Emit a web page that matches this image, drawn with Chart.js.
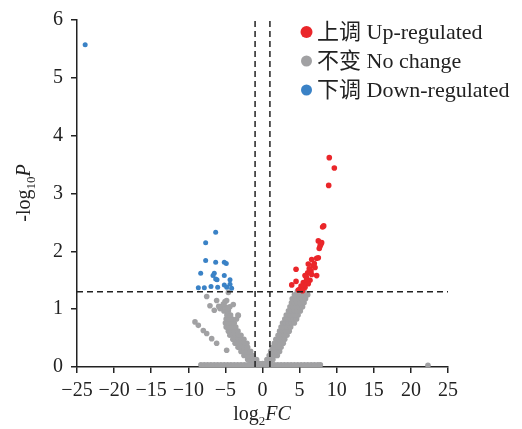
<!DOCTYPE html>
<html>
<head>
<meta charset="utf-8">
<script src="https://cdn.jsdelivr.net/npm/chart.js@4"></script>
<style>
  body { margin: 0; background: #fff; }
  #chart { display: block; }
</style>
</head>
<body>
<canvas id="chart" width="522" height="429"></canvas>
<script>
// log2FC, -log10P
const upPoints = [
  [9.0,3.62],[9.68,3.44],[8.92,3.14],[8.25,2.44],[8.1,2.42],[7.52,2.18],[7.97,2.15],
  [7.75,2.09],[7.85,2.12],[7.65,2.05],[7.3,1.88],[6.63,1.86],[7.52,1.89],[6.17,1.78],
  [6.98,1.79],[7.08,1.72],[6.54,1.66],[6.09,1.63],[4.52,1.69],[7.3,1.58],[5.73,1.58],
  [6.63,1.6],[5.95,1.52],[4.52,1.48],[5.5,1.46],[6.4,1.5],[5.95,1.49],[3.94,1.42],
  [6.17,1.44],[5.73,1.38],[5.28,1.35],[4.83,1.33],[5.05,1.35],[5.5,1.41],[6.3,1.7],
  [5.2,1.4],[6.8,1.75],[5.9,1.56],[5.4,1.32]
];

const downPoints = [
  [-23.9,5.57],[-6.31,2.33],[-7.66,2.15],[-7.66,1.84],[-6.31,1.81],[-5.15,1.81],[-4.88,1.79],
  [-8.33,1.62],[-6.5,1.62],[-6.67,1.58],[-5.15,1.58],[-6.31,1.52],[-6.13,1.51],[-4.38,1.51],
  [-8.65,1.37],[-7.84,1.37],[-6.94,1.39],[-6.04,1.38],[-5.15,1.42],[-4.82,1.38],[-4.38,1.43],
  [-4.16,1.36]
];

const greyBand = [
  [-8.3,0.04],[-7.85,0.04],[-7.4,0.04],[-6.95,0.04],[-6.5,0.04],[-6.05,0.04],[-5.6,0.04],
  [-5.15,0.04],[-4.7,0.04],[-4.25,0.04],[-3.8,0.04],[-3.35,0.04],[-2.9,0.04],[-2.45,0.04],
  [-2.0,0.04],[-1.55,0.04],[-1.1,0.04],[-0.65,0.04],[-0.2,0.04],[0.25,0.04],[0.7,0.04],
  [1.15,0.04],[1.6,0.04],[2.05,0.04],[2.5,0.04],[2.95,0.04],[3.4,0.04],[3.85,0.04],
  [4.3,0.04],[4.75,0.04],[5.2,0.04],[5.65,0.04],[6.1,0.04],[6.55,0.04],[7.0,0.04],
  [7.45,0.04],[7.8,0.04],[22.3,0.03]
];

const greyLeft = [
  [-1.6,0.06],[-1.2,0.06],[-0.8,0.06],[-0.4,0.06],[0.0,0.06],
  [-2.0,0.13],[-1.6,0.13],[-1.2,0.13],[-0.8,0.13],
  [-2.5,0.2],[-2.1,0.2],[-1.7,0.2],[-1.3,0.2],
  [-2.9,0.27],[-2.5,0.27],[-2.1,0.27],[-1.6,0.27],
  [-3.3,0.34],[-2.9,0.34],[-2.5,0.34],[-2.0,0.34],
  [-3.7,0.41],[-3.3,0.41],[-2.9,0.41],[-2.4,0.41],[-2.1,0.41],
  [-4.0,0.48],[-3.6,0.48],[-3.2,0.48],[-2.8,0.48],[-2.5,0.48],
  [-4.4,0.55],[-4.0,0.55],[-3.6,0.55],[-3.2,0.55],[-2.9,0.55],
  [-4.6,0.62],[-4.2,0.62],[-3.8,0.62],[-3.3,0.62],
  [-4.9,0.69],[-4.5,0.69],[-4.1,0.69],[-3.6,0.69],
  [-5.0,0.76],[-4.6,0.76],[-4.2,0.76],[-3.8,0.76],
  [-4.9,0.83],[-4.5,0.83],[-4.1,0.83],[-3.5,0.83],
  [-4.8,0.9],[-4.3,0.9],[-3.3,0.9],
  [-5.2,0.97],[-4.6,0.97],
  [-5.6,1.04],[-5.0,1.04],[-4.4,1.04]
];

const greyScatter = [
  [-7.52,1.22],[-7.08,1.06],[-6.18,1.15],[-5.73,1.01],[-5.28,1.09],[-4.83,1.15],[-4.61,1.01],
  [-6.5,0.98],[-3.26,0.89],[-4.6,1.29],[-5.05,1.13],[-3.94,1.08],[-5.9,1.05],
  [-9.1,0.78],[-8.65,0.72],[-7.98,0.63],[-7.52,0.58],[-6.85,0.49],[-6.18,0.41],[-4.83,0.29]
];

const greyRight = [
  [0.3,0.06],[0.7,0.06],[1.1,0.06],
  [0.6,0.13],[1.0,0.13],[1.4,0.13],
  [0.9,0.2],[1.3,0.2],[1.7,0.2],[2.0,0.2],
  [1.1,0.27],[1.5,0.27],[1.9,0.27],[2.3,0.27],
  [1.3,0.34],[1.7,0.34],[2.1,0.34],[2.5,0.34],
  [1.6,0.41],[2.0,0.41],[2.4,0.41],[2.8,0.41],
  [1.8,0.48],[2.2,0.48],[2.6,0.48],[3.0,0.48],
  [2.1,0.55],[2.5,0.55],[2.9,0.55],[3.3,0.55],
  [2.3,0.62],[2.7,0.62],[3.1,0.62],[3.6,0.62],
  [2.5,0.69],[2.9,0.69],[3.3,0.69],[3.8,0.69],
  [2.7,0.76],[3.1,0.76],[3.5,0.76],[3.9,0.76],[4.3,0.76],
  [3.0,0.83],[3.4,0.83],[3.8,0.83],[4.2,0.83],[4.6,0.83],
  [3.2,0.9],[3.6,0.9],[4.0,0.9],[4.4,0.9],[4.8,0.9],
  [3.5,0.97],[3.9,0.97],[4.3,0.97],[4.7,0.97],[5.1,0.97],
  [3.7,1.04],[4.1,1.04],[4.5,1.04],[4.9,1.04],[5.4,1.04],
  [3.9,1.11],[4.3,1.11],[4.7,1.11],[5.1,1.11],[5.6,1.11],
  [4.0,1.18],[4.5,1.18],[4.9,1.18],[5.3,1.18],[5.8,1.18],
  [4.3,1.25],[4.8,1.25],[5.2,1.25],[5.7,1.25],[6.1,1.25],
  [4.7,1.31],[5.2,1.31],[5.6,1.31]
];

const fcCutoff = 1;
const pCutoff = 1.3;
const xTicks = [-25, 25];
const yTicks = [0, 6];
const legendLabels = ["上调 Up-regulated", "不变 No change", "下调 Down-regulated"];

const RED = "rgb(234,38,42)";
const GREY = "rgb(161,161,163)";
const BLUE = "rgb(58,130,198)";
const INK = "#222";
const SERIF = '"Liberation Serif", "Noto Sans CJK SC", serif';

const toXY = (arr) => arr.map(([x, y]) => ({ x, y }));
const greyPoints = [].concat(greyBand, greyLeft, greyRight, greyScatter);

function dashed(data) {
  return {
    type: "line",
    data: data,
    borderColor: INK,
    borderWidth: 1.5,
    borderDash: [6, 4],
    pointRadius: 0,
    showLine: true,
    fill: false,
    order: -1,
  };
}

const axisTitles = {
  id: "axisTitles",
  afterDraw(chart) {
    const ctx = chart.ctx;
    ctx.save();
    ctx.fillStyle = INK;
    ctx.textBaseline = "alphabetic";

    // draws "main" + subscript + italic part centred at 0,0
    function titled(main, sub, ital) {
      ctx.font = "20px " + SERIF;
      const w1 = ctx.measureText(main).width;
      ctx.font = "13px " + SERIF;
      const w2 = ctx.measureText(sub).width;
      ctx.font = "italic 20px " + SERIF;
      const w3 = ctx.measureText(ital).width;
      let x = -(w1 + w2 + w3) / 2;
      ctx.textAlign = "left";
      ctx.font = "20px " + SERIF;
      ctx.fillText(main, x, 0);
      x += w1;
      ctx.font = "13px " + SERIF;
      ctx.fillText(sub, x, 5);
      x += w2;
      ctx.font = "italic 20px " + SERIF;
      ctx.fillText(ital, x, 0);
    }

    ctx.save();
    ctx.translate(262, 420);
    titled("log", "2", "FC");
    ctx.restore();

    ctx.save();
    ctx.translate(30, 193);
    ctx.rotate(-Math.PI / 2);
    titled("-log", "10", "P");
    ctx.restore();

    // legend
    const colors = [RED, GREY, BLUE];
    const radii = [6, 5.5, 5.5];
    ctx.font = "22px " + SERIF;
    ctx.textAlign = "left";
    ctx.textBaseline = "middle";
    legendLabels.forEach((lab, i) => {
      const y = 32 + i * 29;
      ctx.beginPath();
      ctx.fillStyle = colors[i];
      ctx.arc(306.5, y, radii[i], 0, Math.PI * 2);
      ctx.fill();
      ctx.fillStyle = INK;
      ctx.fillText(lab, 317, y + 1);
    });
    ctx.restore();
  },
};

new Chart(document.getElementById("chart"), {
  type: "scatter",
  data: {
    datasets: [
      dashed([{ x: -fcCutoff, y: 0 }, { x: -fcCutoff, y: yTicks[1] }]),
      dashed([{ x: fcCutoff, y: 0 }, { x: fcCutoff, y: yTicks[1] }]),
      dashed([{ x: xTicks[0], y: pCutoff }, { x: xTicks[1], y: pCutoff }]),
      { label: legendLabels[0], data: toXY(upPoints), backgroundColor: RED, pointRadius: 2.8, borderWidth: 0, order: 0 },
      { label: legendLabels[2], data: toXY(downPoints), backgroundColor: BLUE, pointRadius: 2.5, borderWidth: 0, order: 1 },
      { label: legendLabels[1], data: toXY(greyPoints), backgroundColor: GREY, pointRadius: 2.8, borderWidth: 0, order: 2 },
    ],
  },
  options: {
    responsive: false,
    animation: false,
    events: [],
    layout: { padding: { top: 17, right: 74, left: 0, bottom: 0 } },
    plugins: {
      legend: { display: false },
      tooltip: { enabled: false },
    },
    scales: {
      x: {
        type: "linear",
        min: xTicks[0],
        max: xTicks[1],
        afterFit: (s) => { s.height = 62; },
        ticks: {
          stepSize: 5,
          autoSkip: false,
          maxRotation: 0,
          minRotation: 0,
          color: INK,
          padding: 6,
          font: { family: SERIF, size: 20 },
          callback: (v) => (v < 0 ? "\u2212" + Math.abs(v) : String(v)),
        },
        grid: { drawOnChartArea: false, drawTicks: true, tickLength: 6, color: INK, lineWidth: 1.5 },
        border: { display: true, color: INK, width: 1.5 },
      },
      y: {
        type: "linear",
        min: yTicks[0],
        max: yTicks[1],
        afterFit: (s) => { s.width = 77; },
        ticks: {
          stepSize: 1,
          color: INK,
          padding: 8,
          font: { family: SERIF, size: 20 },
        },
        grid: { drawOnChartArea: false, drawTicks: true, tickLength: 6, color: INK, lineWidth: 1.5 },
        border: { display: true, color: INK, width: 1.5 },
      },
    },
  },
  plugins: [axisTitles],
});
</script>
</body>
</html>
